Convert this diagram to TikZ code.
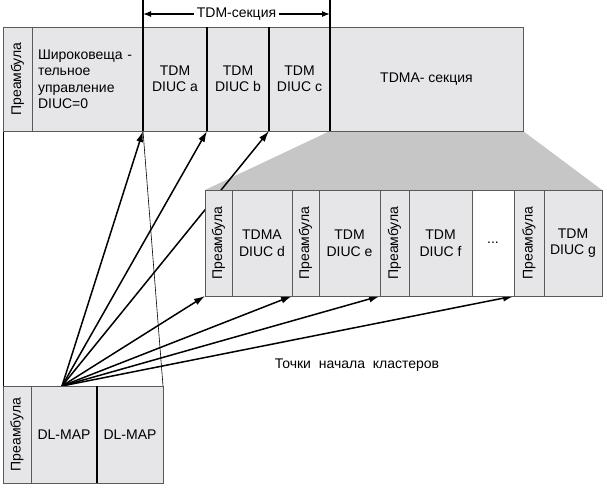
\documentclass[tikz,border=0pt]{standalone}
\usepackage{fontspec}
\setmainfont{Liberation Sans}
\usepackage{graphicx}
\usetikzlibrary{arrows.meta,positioning,backgrounds}
\definecolor{cellgr}{HTML}{E6E6E8}
\definecolor{trapgr}{HTML}{C6C6C6}
\definecolor{rimgr}{HTML}{5A5A5A}
\newcommand{\pream}{\rotatebox{90}{Преамбула}}
\tikzset{
  cell/.style={rectangle, draw=rimgr, line width=0.8pt, fill=cellgr, inner sep=0pt, outer sep=0pt,
               align=center, font=\fontsize{14}{16.5}\selectfont, minimum width=#1},
  toprow/.style={minimum height=104pt},
  lowrow/.style={minimum height=106pt},
  botrow/.style={minimum height=97pt},
  thickdiv/.style={line width=1.6pt, draw=black},
  thindiv/.style={line width=0.8pt, draw=black},
  dimarr/.style={{Latex[length=8pt,width=6pt]}-{Latex[length=8pt,width=6pt]}, line width=1.3pt},
  fan/.style={-{Latex[length=11pt,width=7pt]}, line width=1.5pt},
}
\begin{document}
\begin{tikzpicture}[x=1pt,y=-1pt]
  \useasboundingbox (0,0) rectangle (607,487);
  % верхний кадр
  \node[cell=29pt, toprow, anchor=north west] (tpre) at (3,27) {\pream};
  \node[cell=111pt, toprow, right=0pt of tpre, align=left, text width=99pt] (bcast)
    {\\[-6pt]Широковеща -\\тельное\\управление\\DIUC=0};
  \node[cell=64pt, toprow, right=0pt of bcast] (a) {TDM\\DIUC a};
  \node[cell=62pt, toprow, right=0pt of a] (b) {TDM\\DIUC b};
  \node[cell=61pt, toprow, right=0pt of b] (c) {TDM\\DIUC c};
  \node[cell=193pt, toprow, right=0pt of c] (tdma) {TDMA- секция};
  \draw[thickdiv] (a.south west) -- ([yshift=27pt]a.north west);
  \draw[thickdiv] (b.south west) -- (b.north west);
  \draw[thickdiv] (c.south west) -- (c.north west);
  \draw[thickdiv] (tdma.south west) -- ([yshift=27pt]tdma.north west);
  \draw[dimarr] ([yshift=13pt]a.north west) -- ([yshift=13pt]tdma.north west)
    node[midway, fill=white, inner sep=3pt, font=\fontsize{14}{17}\selectfont] (tdmlbl) {TDM-секция};
  % нижний кадр (TDMA)
  \node[cell=27pt, lowrow, anchor=north west] (lpre1) at (205,190) {\pream};
  \node[cell=60pt, lowrow, right=0pt of lpre1] (d) {TDMA\\DIUC d};
  \node[cell=27pt, lowrow, right=0pt of d] (lpre2) {\pream};
  \node[cell=61pt, lowrow, right=0pt of lpre2] (e) {TDM\\DIUC e};
  \node[cell=29pt, lowrow, right=0pt of e] (lpre3) {\pream};
  \node[cell=63pt, lowrow, right=0pt of lpre3] (f) {TDM\\DIUC f};
  \node[cell=42pt, lowrow, fill=white, right=0pt of f] (dots) {...};
  \node[cell=30pt, lowrow, right=0pt of dots] (lpre4) {\pream};
  \node[cell=58pt, lowrow, right=0pt of lpre4] (g) {TDM\\DIUC g};
  % DL-MAP
  \node[cell=28pt, botrow, anchor=north west] (bpre) at (3,386) {\pream};
  \node[cell=66pt, botrow, right=0pt of bpre] (map1) {DL-MAP};
  \node[cell=66pt, botrow, right=0pt of map1] (map2) {DL-MAP};
  \draw[thickdiv] (map2.south west) -- (map2.north west);
  \node[font=\fontsize{14}{17}\selectfont] (lbl) at (357,365) {Точки\ \ начала\ \ кластеров};
  \coordinate (src) at ([xshift=-2pt]map1.north);
  \begin{pgfonlayer}{background}
    \fill[trapgr] (tdma.south west) -- (tdma.south east) -- (g.north east) -- (lpre1.north west) -- cycle;
    \draw[thindiv] (tpre.south west) -- (bpre.north west);
    \draw[line width=0.6pt] (a.south west) -- (map2.north east);
    \foreach \t in {a.south west, b.south west, c.south west, lpre1.south west,
                    lpre2.south west, lpre3.south west, lpre4.south west}
      \draw[fan] (src) -- (\t);
  \end{pgfonlayer}
\end{tikzpicture}
\end{document}
